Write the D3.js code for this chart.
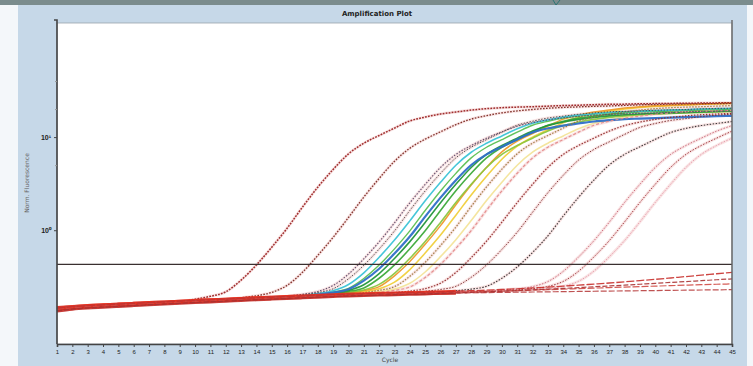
<!DOCTYPE html>
<html>
<head>
<meta charset="utf-8">
<script src="https://cdn.jsdelivr.net/npm/d3@7"></script>
<style>
  html, body { margin: 0; padding: 0; background: #fff; }
  svg { display: block; font-family: "DejaVu Sans", sans-serif; }
</style>
</head>
<body>
<div id="chart"></div>
<script>
// cycles on the x axis
const cycles = [1,2,3,4,5,6,7,8,9,10,11,12,13,14,15,16,17,18,19,20,21,22,23,24,25,26,27,28,29,30,
  31,32,33,34,35,36,37,38,39,40,41,42,43,44,45];

// common baseline read before each curve starts to rise (cycles 1..31)
const baseline = [0.142,0.147,0.151,0.154,0.157,0.160,0.163,0.166,0.169,0.172,0.175,0.178,0.181,0.184,0.187,
  0.190,0.193,0.196,0.199,0.202,0.204,0.206,0.208,0.210,0.212,0.214,0.216,0.218,0.220,0.222,0.223];

// amplified samples: values from the cycle where they leave the baseline
const riseA1 = [0.182,0.195,0.218,0.291,0.424,0.657,1.05,1.77,2.9,4.5,6.6,8.6,10.4,12.5,14.9,16.4,17.7,18.6,
  19.5,20.2,20.7,21.0,21.2,21.5,21.8,22.0,22.3,22.5,22.6,22.8,22.9,23.0,23.1,23.2,23.3,23.4];
const riseA2 = [0.188,0.198,0.215,0.256,0.353,0.536,0.839,1.37,2.27,3.6,5.5,7.6,9.5,11.4,13.6,15.6,17.0,18.2,
  19.1,19.8,20.4,20.8,21.1,21.4,21.6,21.9,22.2,22.4,22.6,22.7,22.8,22.9,23.0];
const riseB1 = [0.196,0.205,0.220,0.255,0.338,0.493,0.750,1.20,1.97,3.10,4.72,6.51,8.12,9.74,11.4,13.1,14.3,
  15.3,16.1,16.7,17.2,17.5,17.8,18.0,18.2,18.4,18.7,18.9,19.0,19.1];
const riseB2 = [0.202,0.214,0.235,0.301,0.420,0.629,0.982,1.63,2.64,4.08,5.98,7.78,9.40,11.3,13.4,14.8,16.0,
  16.8,17.6,18.2,18.7,18.9,19.1,19.4,19.6,19.8,20.1,20.3,20.4];
const riseB3 = [0.199,0.209,0.224,0.261,0.348,0.512,0.784,1.26,2.07,3.27,4.99,6.88,8.59,10.3,12.3,14.1,15.3,
  16.4,17.2,17.8,18.4,18.7,19.0,19.3,19.5,19.7,20.0,20.2,20.3];
const riseB4 = [0.204,0.214,0.232,0.287,0.386,0.561,0.855,1.40,2.24,3.45,5.02,6.52,7.87,9.45,11.2,12.4,13.3,
  14.0,14.7,15.2,15.6,15.8,16.0,16.2,16.4,16.6,16.8,16.9];
const riseB5 = [0.202,0.211,0.226,0.260,0.342,0.497,0.754,1.21,1.97,3.11,4.72,6.51,8.12,9.74,11.6,13.3,14.5,
  15.5,16.3,16.9,17.4,17.7,18.0,18.2,18.4,18.6,18.9,19.1];
const riseB6 = [0.208,0.220,0.240,0.305,0.424,0.633,0.986,1.63,2.65,4.09,5.98,7.78,9.40,11.3,13.4,14.8,16.0,
  16.8,17.6,18.2,18.7,18.9,19.1,19.4,19.6,19.8,20.1];
const riseB7 = [0.205,0.214,0.228,0.262,0.344,0.499,0.756,1.21,1.98,3.11,4.72,6.51,8.12,9.74,11.6,13.3,14.5,
  15.5,16.3,16.9,17.4,17.7,18.0,18.2,18.4,18.6,18.9];
const riseB8 = [0.213,0.225,0.248,0.324,0.462,0.706,1.12,1.88,3.06,4.74,6.94,9.04,10.9,13.1,15.6,17.2,18.6,
  19.5,20.5,21.2,21.7,22.0,22.3,22.6,22.9,23.1];
const riseB9 = [0.209,0.219,0.235,0.277,0.378,0.569,0.886,1.45,2.39,3.79,5.79,7.99,9.99,12.0,14.3,16.4,17.8,
  19.1,20.0,20.8,21.4,21.8,22.1,22.5,22.7,23.0];
const riseB10 = [0.214,0.226,0.248,0.320,0.452,0.684,1.08,1.80,2.92,4.52,6.62,8.62,10.4,12.5,14.9,16.4,17.7,
  18.6,19.5,20.2,20.7,21.0,21.2,21.5,21.8];
const riseB11 = [0.210,0.219,0.233,0.269,0.356,0.520,0.792,1.27,2.08,3.28,4.99,6.88,8.60,10.3,12.3,14.1,15.3,
  16.4,17.2,17.8,18.4,18.7,19.0,19.3,19.5];
const riseB12 = [0.215,0.226,0.246,0.311,0.430,0.639,0.992,1.64,2.65,4.09,5.98,7.79,9.41,11.3,13.4,14.8,16.0,
  16.8,17.6,18.2,18.7,18.9,19.1,19.4];
const riseB13 = [0.205,0.217,0.238,0.303,0.422,0.631,0.984,1.63,2.64,4.08,5.98,7.78,9.40,11.3,13.4,14.8,16.0,
  16.8,17.6,18.2,18.7,18.9,19.1,19.4,19.6,19.8,20.1,20.3];
const riseC1 = [0.214,0.222,0.236,0.270,0.352,0.507,0.764,1.22,1.98,3.11,4.73,6.52,8.13,9.75,11.6,13.3,14.5,
  15.5,16.3,16.9,17.4,17.7,18.0];
const riseC2 = [0.221,0.231,0.250,0.312,0.424,0.622,0.953,1.56,2.53,3.89,5.67,7.37,8.90,10.7,12.7,14.0,15.1,
  15.8,16.6,17.2,17.6];
const riseC3 = [0.224,0.233,0.250,0.305,0.403,0.577,0.870,1.42,2.26,3.46,5.03,6.53,7.88,9.46,11.2,12.4,13.3,
  14.0,14.7];
const riseC4 = [0.228,0.235,0.248,0.281,0.362,0.516,0.772,1.22,1.99,3.12,4.73,6.52,8.13,9.75,11.6,13.3];
const riseC5 = [0.229,0.236,0.249,0.282,0.363,0.517,0.773,1.23,1.99,3.12,4.73,6.52,8.13,9.75,11.6];
const riseC6 = [0.230,0.237,0.250,0.283,0.364,0.518,0.774,1.23,1.99,3.12,4.73,6.52,8.13,9.75];

// samples that never amplify (all 45 cycles)
const neg1 = [0.146,0.151,0.155,0.158,0.161,0.164,0.167,0.170,0.173,0.176,0.179,0.182,0.185,0.188,0.191,0.194,
  0.197,0.200,0.203,0.206,0.208,0.210,0.212,0.214,0.216,0.218,0.221,0.224,0.227,0.231,0.235,0.240,0.245,0.251,
  0.257,0.264,0.271,0.279,0.288,0.297,0.307,0.318,0.329,0.341,0.353];
const neg2 = [0.136,0.142,0.146,0.149,0.152,0.155,0.158,0.161,0.164,0.167,0.170,0.173,0.176,0.179,0.182,0.185,
  0.188,0.191,0.194,0.197,0.199,0.201,0.203,0.205,0.207,0.210,0.212,0.215,0.218,0.221,0.225,0.229,0.233,0.237,
  0.242,0.247,0.252,0.257,0.263,0.269,0.275,0.281,0.287,0.294,0.300];
const neg3 = [0.142,0.147,0.151,0.154,0.157,0.160,0.163,0.166,0.169,0.172,0.175,0.178,0.181,0.184,0.187,0.190,
  0.193,0.196,0.199,0.202,0.204,0.206,0.208,0.210,0.212,0.214,0.216,0.218,0.220,0.222,0.225,0.228,0.230,0.233,
  0.236,0.239,0.242,0.245,0.248,0.251,0.254,0.257,0.260,0.263,0.265];
const neg4 = [0.148,0.152,0.155,0.158,0.161,0.164,0.167,0.170,0.173,0.176,0.179,0.182,0.185,0.188,0.191,0.194,
  0.196,0.198,0.200,0.202,0.204,0.206,0.208,0.210,0.211,0.211,0.212,0.213,0.214,0.215,0.216,0.217,0.218,0.219,
  0.220,0.221,0.222,0.223,0.224,0.225,0.226,0.227,0.228,0.229,0.230];

const yTicks = [1, 10];
const yMinorTicks = [5, 20, 40];
const thresholdValue = 0.43;

// curve list in drawing order (first cycle of the rise part)
const curves = [
  { name: 'B11', from: 21, rise: riseB11 },
  { name: 'B9', from: 20, rise: riseB9 },
  { name: 'B8', from: 20, rise: riseB8 },
  { name: 'B7', from: 19, rise: riseB7 },
  { name: 'B6', from: 19, rise: riseB6 },
  { name: 'B5', from: 18, rise: riseB5 },
  { name: 'B13', from: 18, rise: riseB13 },
  { name: 'B3', from: 17, rise: riseB3 },
  { name: 'B4', from: 18, rise: riseB4 },
  { name: 'B12', from: 22, rise: riseB12 },
  { name: 'B10', from: 21, rise: riseB10 },
  { name: 'B1', from: 16, rise: riseB1 },
  { name: 'B2', from: 17, rise: riseB2 },
  { name: 'C1', from: 23, rise: riseC1 },
  { name: 'C2', from: 25, rise: riseC2 },
  { name: 'C3', from: 27, rise: riseC3 },
  { name: 'C4', from: 30, rise: riseC4 },
  { name: 'C5', from: 31, rise: riseC5 },
  { name: 'C6', from: 32, rise: riseC6 },
  { name: 'A2', from: 13, rise: riseA2 },
  { name: 'A1', from: 10, rise: riseA1 }
];
const negatives = [
  { name: 'N4', values: neg4 },
  { name: 'N3', values: neg3 },
  { name: 'N2', values: neg2 },
  { name: 'N1', values: neg1 }
];

const styles = {
  B11: { color: '#f3e49a', width: 1.6, dash: null },
  B9:  { color: '#f0cf3c', width: 1.6, dash: null },
  B8:  { color: '#ee9a2a', width: 1.5, dash: null },
  B7:  { color: '#8cc63f', width: 1.6, dash: null },
  B6:  { color: '#3daa3a', width: 1.6, dash: null },
  B5:  { color: '#23963a', width: 1.6, dash: null },
  B13: { color: '#5cbf50', width: 1.4, dash: null },
  B3:  { color: '#3cc3d6', width: 1.6, dash: null },
  B4:  { color: '#2f6fc8', width: 2.2, dash: null },
  B12: { color: '#e48a8a', width: 1.2, dash: '3,2' },
  B10: { color: '#9c7a3c', width: 1.2, dash: '1.5,1.5' },
  B1:  { color: '#5a4a6a', width: 1.1, dash: '1.5,1.5' },
  B2:  { color: '#4a4a4a', width: 1.0, dash: '1.5,1.5' },
  C1:  { color: '#8e2a2a', width: 1.2, dash: '1.5,1.5' },
  C2:  { color: '#7a3030', width: 1.0, dash: '1.5,1.5' },
  C3:  { color: '#303030', width: 1.1, dash: '1.5,1.5' },
  C4:  { color: '#c8687a', width: 1.0, dash: '1.5,1.5' },
  C5:  { color: '#9a3036', width: 1.0, dash: '1.5,1.5' },
  C6:  { color: '#e69aac', width: 1.0, dash: '1.5,1.5' },
  A2:  { color: '#7a2a22', width: 1.3, dash: '1.6,1.4' },
  A1:  { color: '#9a2424', width: 1.5, dash: '1.8,1.2' },
  N4:  { color: '#b84040', width: 1.2, dash: '6,2' },
  N3:  { color: '#d04a44', width: 1.2, dash: '7,2' },
  N2:  { color: '#a83232', width: 1.2, dash: '5,2' },
  N1:  { color: '#c8302c', width: 1.3, dash: '8,2' }
};

const W = 753, H = 366;
const plot = { left: 57, right: 732, top: 23, bottom: 344 };

const svg = d3.select('#chart').append('svg')
  .attr('width', W)
  .attr('height', H);

// window frame
svg.append('rect').attr('x', 0).attr('y', 0).attr('width', W).attr('height', H).attr('fill', '#f4f7fa');
svg.append('rect').attr('x', 18).attr('y', 5).attr('width', 729).attr('height', H - 5).attr('fill', '#c6d8e8');
svg.append('rect').attr('x', 0).attr('y', 0).attr('width', W).attr('height', 5).attr('fill', '#7b8c8d');
svg.append('path').attr('d', 'M553,0 L556,5 L560,0').attr('fill', 'none')
  .attr('stroke', '#2c7474').attr('stroke-width', 1);

// plot area
svg.append('rect')
  .attr('x', plot.left).attr('y', plot.top)
  .attr('width', plot.right - plot.left).attr('height', plot.bottom - plot.top)
  .attr('fill', '#fff').attr('stroke', '#9aa4ac').attr('stroke-width', 0.8);

const x = d3.scaleLinear().domain([1, 45]).range([plot.left, plot.right]);
const y = d3.scaleLog().domain([0.06, 168]).range([plot.bottom, plot.top]);

const line = d3.line()
  .x(d => x(d.c))
  .y(d => y(d.v))
  .curve(d3.curveMonotoneX);

function seriesValues(s) {
  return cycles.map(c => ({ c: c, v: c < s.from ? baseline[c - 1] : s.rise[c - s.from] }));
}
function negValues(s) {
  return s.values.map((v, i) => ({ c: cycles[i], v: v }));
}

// the dense red band: where all wells still sit on the baseline
svg.append('clipPath').attr('id', 'band-clip')
  .append('rect')
  .attr('x', plot.left).attr('y', plot.top)
  .attr('width', x(27) - plot.left).attr('height', plot.bottom - plot.top);

const g = svg.append('g');

// faint halo under the dotted curves, like the marker rims in the original
const dotted = curves.filter(d => styles[d.name].dash);
g.selectAll('path.halo')
  .data(dotted)
  .enter().append('path')
  .attr('class', 'halo')
  .attr('d', d => line(seriesValues(d)))
  .attr('fill', 'none')
  .attr('stroke', '#f2c4c4')
  .attr('stroke-width', 3)
  .attr('opacity', 0.45);

// amplified curves
g.selectAll('path.amp')
  .data(curves)
  .enter().append('path')
  .attr('class', 'amp')
  .attr('d', d => line(seriesValues(d)))
  .attr('fill', 'none')
  .attr('stroke', d => styles[d.name].color)
  .attr('stroke-width', d => styles[d.name].width)
  .attr('stroke-dasharray', d => styles[d.name].dash)
  .attr('opacity', 0.95);

// flat negatives: thick over the shared baseline, thin dashed where they split
g.append('g').attr('clip-path', 'url(#band-clip)')
  .selectAll('path')
  .data(negatives)
  .enter().append('path')
  .attr('d', d => line(negValues(d)))
  .attr('fill', 'none')
  .attr('stroke', (d, i) => ['#d8342a', '#e0402e', '#c42a24', '#e8321f'][i])
  .attr('stroke-width', 3)
  .attr('opacity', 0.9);

g.selectAll('path.neg')
  .data(negatives)
  .enter().append('path')
  .attr('class', 'neg')
  .attr('d', d => line(negValues(d)))
  .attr('fill', 'none')
  .attr('stroke', d => styles[d.name].color)
  .attr('stroke-width', d => styles[d.name].width)
  .attr('stroke-dasharray', d => styles[d.name].dash)
  .attr('opacity', 0.9);

// threshold
svg.append('line')
  .attr('x1', plot.left).attr('x2', plot.right)
  .attr('y1', y(thresholdValue)).attr('y2', y(thresholdValue))
  .attr('stroke', '#3a3030').attr('stroke-width', 1.3);

// right border
svg.append('line')
  .attr('x1', plot.right).attr('x2', plot.right)
  .attr('y1', plot.top - 3).attr('y2', plot.bottom)
  .attr('stroke', '#666').attr('stroke-width', 1.4);

// x axis
const xAxis = svg.append('g')
  .attr('transform', `translate(0,${plot.bottom})`)
  .call(d3.axisBottom(x).tickValues(cycles).tickSize(3).tickFormat(d3.format('d')));
xAxis.select('.domain').attr('stroke', '#444').attr('stroke-width', 1.6);
xAxis.selectAll('.tick line').attr('stroke', '#444');
xAxis.selectAll('text')
  .attr('font-size', '6px')
  .attr('fill', '#222')
  .attr('dy', '0.6em');

// y axis
const supers = { 0: '\u2070', 1: '\u00b9', 2: '\u00b2' };
const yAxis = svg.append('g')
  .attr('transform', `translate(${plot.left},0)`)
  .call(d3.axisLeft(y).tickValues(yTicks).tickSize(3)
    .tickFormat(d => '10' + supers[Math.round(Math.log10(d))]));
yAxis.select('.domain').attr('stroke', '#444').attr('stroke-width', 1.6)
  .attr('d', `M-3,${plot.top - 3}H0V${plot.bottom}`);
yAxis.selectAll('.tick line').attr('stroke', '#444');
yAxis.selectAll('text')
  .attr('font-size', '7px')
  .attr('font-weight', 'bold')
  .attr('fill', '#222');

svg.append('g')
  .attr('transform', `translate(${plot.left},0)`)
  .call(d3.axisLeft(y).tickValues(yMinorTicks).tickSize(2).tickFormat(''))
  .call(a => a.select('.domain').remove())
  .selectAll('.tick line').attr('stroke', '#999');

// titles
svg.append('text')
  .attr('x', 377).attr('y', 16)
  .attr('text-anchor', 'middle')
  .attr('font-size', '7px')
  .attr('font-weight', 'bold')
  .attr('fill', '#222')
  .text('Amplification Plot');

svg.append('text')
  .attr('transform', 'translate(29,183) rotate(-90)')
  .attr('text-anchor', 'middle')
  .attr('font-size', '6px')
  .attr('fill', '#666')
  .text('Norm. Fluorescence');

svg.append('text')
  .attr('x', 390).attr('y', 362)
  .attr('text-anchor', 'middle')
  .attr('font-size', '6px')
  .attr('fill', '#444')
  .text('Cycle');
</script>
</body>
</html>
